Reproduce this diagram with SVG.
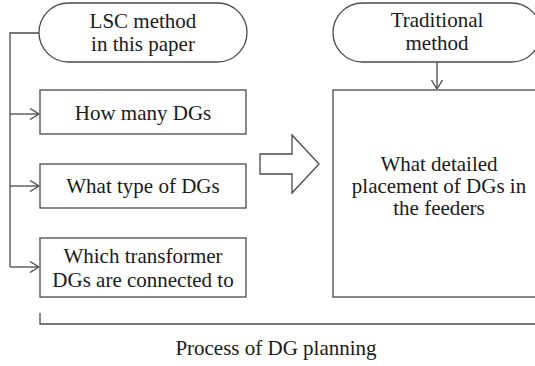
<svg xmlns="http://www.w3.org/2000/svg" width="535" height="366" viewBox="0 0 535 366">
<style>
.s{fill:#fff;stroke:#4a4a4a;stroke-width:1.3}
.l{fill:none;stroke:#4a4a4a;stroke-width:1.3}
text{font-family:"Liberation Serif","Times New Roman",serif;font-size:21px;fill:#1a1a1a;text-anchor:middle}
</style>
<defs>
<marker id="a" viewBox="0 0 10 12" refX="10" refY="6" markerWidth="10" markerHeight="12" markerUnits="userSpaceOnUse" orient="auto">
<path d="M1,0.5 L10,6 L1,11.5" fill="none" stroke="#4a4a4a" stroke-width="1.3"/>
</marker>
</defs>
<rect width="535" height="366" fill="#fff"/>
<g id="connectors">
<path class="l" d="M39,33 H10 V267"/>
<path class="l" d="M10,114 H39" marker-end="url(#a)"/>
<path class="l" d="M10,186 H39" marker-end="url(#a)"/>
<path class="l" d="M10,267 H39" marker-end="url(#a)"/>
<path class="l" d="M437,62 V89" marker-end="url(#a)"/>
<path class="s" d="M260,154 H292 V135 L319,164 L292,193 V174 H260 Z"/>
<path class="l" d="M40,313 V324 H540"/>
</g>
<g id="lsc">
<rect class="s" x="39" y="3" width="208" height="59" rx="29.5"/>
<text x="143" y="28">LSC method</text>
<text x="143" y="51">in this paper</text>
</g>
<g id="howmany">
<rect class="s" x="40" y="90" width="206" height="44"/>
<text x="143" y="120">How many DGs</text>
</g>
<g id="whattype">
<rect class="s" x="40" y="164" width="206" height="44"/>
<text x="143" y="193">What type of DGs</text>
</g>
<g id="which">
<rect class="s" x="40" y="238" width="206" height="59"/>
<text x="143" y="263">Which transformer</text>
<text x="143" y="287">DGs are connected to</text>
</g>
<g id="traditional">
<rect class="s" x="333" y="3" width="208" height="59" rx="29.5"/>
<text x="437" y="27">Traditional</text>
<text x="437" y="50">method</text>
</g>
<g id="detailed">
<rect class="s" x="333" y="90" width="208" height="207"/>
<text x="439" y="171">What detailed</text>
<text x="439" y="193">placement of DGs in</text>
<text x="439" y="215">the feeders</text>
</g>
<g id="caption">
<text x="276" y="355">Process of DG planning</text>
</g>
</svg>
